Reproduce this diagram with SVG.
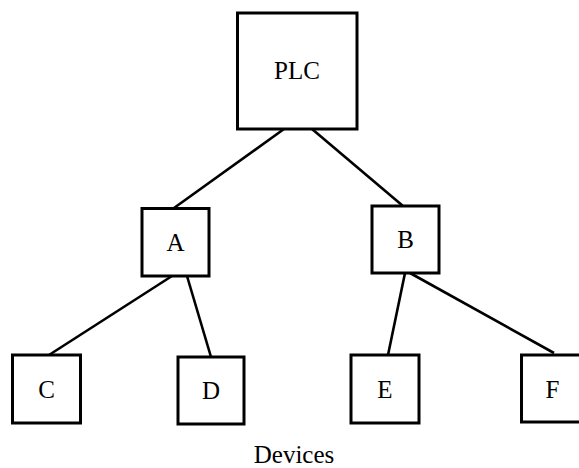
<svg xmlns="http://www.w3.org/2000/svg" width="579" height="468" viewBox="0 0 579 468">
<style>
.box{fill:#fff;stroke:#000;stroke-width:3}
.lbl{font-family:"Liberation Serif","DejaVu Serif",serif;font-size:25px;fill:#000;text-anchor:middle}
.edge{stroke:#000;stroke-width:2.6;fill:none}
</style>
<rect width="579" height="468" fill="#fff"/>
<g id="connectors">
<line class="edge" x1="284" y1="129" x2="174" y2="208"/>
<line class="edge" x1="312" y1="129" x2="403" y2="206"/>
<line class="edge" x1="172" y1="276" x2="49" y2="355"/>
<line class="edge" x1="187" y1="276" x2="211" y2="357"/>
<line class="edge" x1="405" y1="273" x2="388" y2="355"/>
<line class="edge" x1="410" y1="273" x2="554" y2="353"/>
</g>
<g id="PLC"><rect class="box" x="237.5" y="13" width="119.5" height="116"/><text class="lbl" x="297" y="79">PLC</text></g>
<g id="A"><rect class="box" x="142" y="208.5" width="67" height="67.5"/><text class="lbl" x="175.5" y="250.5">A</text></g>
<g id="B"><rect class="box" x="372" y="206" width="67" height="67"/><text class="lbl" x="405.5" y="248">B</text></g>
<g id="C"><rect class="box" x="12.5" y="355" width="68" height="68"/><text class="lbl" x="46.5" y="397.5">C</text></g>
<g id="D"><rect class="box" x="178" y="357" width="66" height="67"/><text class="lbl" x="211" y="399">D</text></g>
<g id="E"><rect class="box" x="351" y="355" width="68" height="68"/><text class="lbl" x="385" y="397.5">E</text></g>
<g id="F"><rect class="box" x="521.5" y="355" width="66" height="67"/><text class="lbl" x="552.5" y="397.5">F</text></g>
<text class="lbl" x="294" y="463">Devices</text>
</svg>
